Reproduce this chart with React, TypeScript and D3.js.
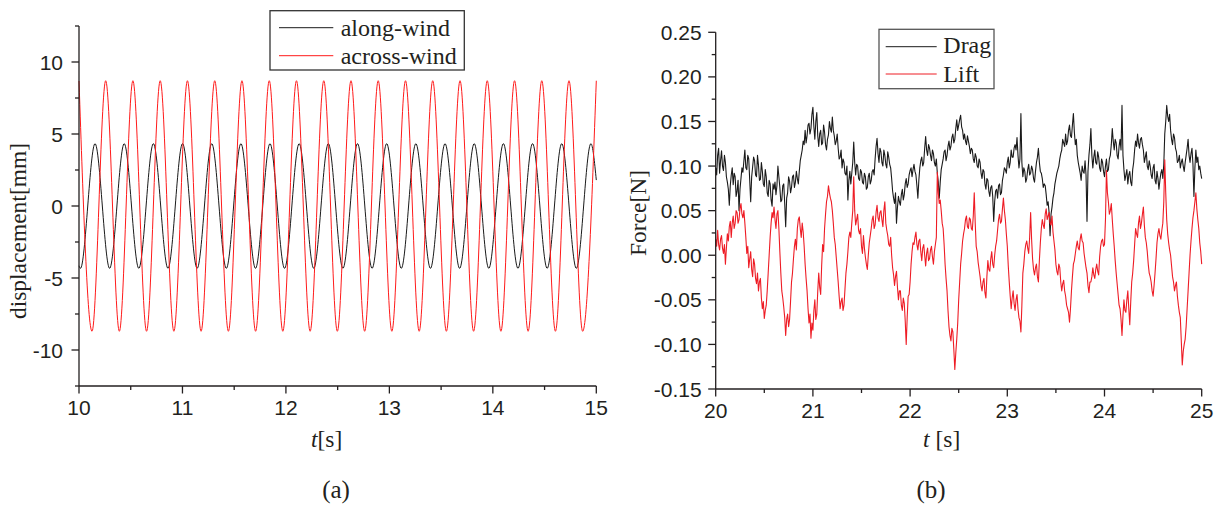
import React from "react";
import * as d3 from "d3";

// ---------- (a) displacement: extrema ----------
const alongWindT = [10.0, 10.014, 10.155, 10.296, 10.437, 10.578, 10.719, 10.86, 11.001, 11.142, 11.283, 11.424, 11.565, 11.706, 11.846, 11.987, 12.128, 12.269, 12.41, 12.551, 12.692, 12.833, 12.974, 13.115, 13.256, 13.397, 13.538, 13.679, 13.82, 13.961, 14.102, 14.243, 14.384, 14.525, 14.666, 14.807, 14.948, 15.0];
const alongWindV = [-4.15, -4.33, 4.33, -4.33, 4.33, -4.33, 4.33, -4.33, 4.33, -4.33, 4.33, -4.33, 4.33, -4.33, 4.33, -4.33, 4.33, -4.33, 4.33, -4.33, 4.33, -4.33, 4.33, -4.33, 4.33, -4.33, 4.33, -4.33, 4.33, -4.33, 4.33, -4.33, 4.33, -4.33, 4.33, -4.33, 4.33, 1.8];
const acrossWindT = [10.0, 10.126, 10.258, 10.39, 10.521, 10.653, 10.785, 10.917, 11.048, 11.18, 11.312, 11.444, 11.575, 11.707, 11.839, 11.97, 12.102, 12.234, 12.366, 12.497, 12.629, 12.761, 12.892, 13.024, 13.156, 13.288, 13.419, 13.551, 13.683, 13.814, 13.946, 14.078, 14.21, 14.341, 14.473, 14.605, 14.736, 14.868, 15.0];
const acrossWindV = [8.68, -8.7, 8.7, -8.7, 8.7, -8.7, 8.7, -8.7, 8.7, -8.7, 8.7, -8.7, 8.7, -8.7, 8.7, -8.7, 8.7, -8.7, 8.7, -8.7, 8.7, -8.7, 8.7, -8.7, 8.7, -8.7, 8.7, -8.7, 8.7, -8.7, 8.7, -8.7, 8.7, -8.7, 8.7, -8.7, 8.7, -8.7, 8.7];
const dispTicks = [-10, -5, 0, 5, 10];
const dispMinor = [-12.5, -7.5, -2.5, 2.5, 7.5, 12.5];
const tTicksA = [10, 11, 12, 13, 14, 15];
const tMinorA = [10.5, 11.5, 12.5, 13.5, 14.5];

// ---------- (b) forces: samples every 0.02 s from t = 20 s, plus in-between samples ----------
const forceT0 = 20;
const forceDt = 0.02;
const drag = [
  0.098, 0.112, 0.092, 0.117, 0.095, 0.104, 0.082, 0.056, 0.090, 0.079,
  0.088, 0.072, 0.050, 0.086, 0.093, 0.118, 0.096, 0.108, 0.060, 0.099,
  0.106, 0.088, 0.101, 0.085, 0.094, 0.077, 0.088, 0.066, 0.080, 0.055,
  0.074, 0.068, 0.100, 0.076, 0.062, 0.080, 0.032, 0.070, 0.083, 0.076,
  0.090, 0.082, 0.086, 0.094, 0.112, 0.128, 0.140, 0.134, 0.148, 0.142,
  0.166, 0.130, 0.160, 0.122, 0.140, 0.126, 0.138, 0.118, 0.135, 0.142,
  0.155, 0.134, 0.128, 0.120, 0.110, 0.098, 0.104, 0.090, 0.062, 0.094,
  0.092, 0.127, 0.090, 0.100, 0.084, 0.093, 0.080, 0.088, 0.076, 0.092,
  0.084, 0.096, 0.108, 0.131, 0.104, 0.116, 0.100, 0.112, 0.098, 0.110,
  0.098, 0.072, 0.058, 0.036, 0.066, 0.056, 0.074, 0.068, 0.086, 0.080,
  0.095, 0.088, 0.102, 0.090, 0.064, 0.098, 0.110, 0.104, 0.133, 0.112,
  0.120, 0.106, 0.114, 0.100, 0.092, 0.064, 0.096, 0.108, 0.118, 0.112,
  0.128, 0.122, 0.136, 0.130, 0.152, 0.146, 0.157, 0.140, 0.136, 0.124,
  0.128, 0.114, 0.118, 0.104, 0.110, 0.098, 0.104, 0.086, 0.094, 0.074,
  0.084, 0.066, 0.078, 0.038, 0.072, 0.064, 0.080, 0.070, 0.090, 0.096,
  0.104, 0.098, 0.118, 0.110, 0.124, 0.132, 0.098, 0.159, 0.088, 0.094,
  0.086, 0.102, 0.092, 0.096, 0.082, 0.104, 0.120, 0.094, 0.086, 0.080,
  0.068, 0.060, 0.022, 0.054, 0.070, 0.086, 0.096, 0.108, 0.118, 0.126,
  0.136, 0.128, 0.146, 0.132, 0.159, 0.124, 0.112, 0.098, 0.084, 0.094,
  0.106, 0.038, 0.112, 0.142, 0.098, 0.118, 0.102, 0.110, 0.094, 0.104,
  0.088, 0.108, 0.096, 0.112, 0.142, 0.118, 0.126, 0.108, 0.130, 0.168,
  0.096, 0.090, 0.080, 0.094, 0.078, 0.104, 0.128, 0.136, 0.120, 0.132,
  0.118, 0.110, 0.100, 0.106, 0.090, 0.098, 0.084, 0.094, 0.074, 0.092,
  0.086, 0.136, 0.168, 0.150, 0.140, 0.124, 0.132, 0.116, 0.106, 0.098,
  0.108, 0.094, 0.112, 0.130, 0.104, 0.120, 0.066, 0.118, 0.110, 0.100,
  0.086,
];
const dragMid = [
  0.090, 0.120, 0.106, 0.100, 0.112, 0.088, 0.074, 0.078, 0.098, 0.092,
  0.066, 0.084, 0.074, 0.098, 0.106, 0.098, 0.112, 0.084, 0.088, 0.110,
  0.090, 0.112, 0.084, 0.104, 0.080, 0.096, 0.070, 0.084, 0.062, 0.080,
  0.082, 0.078, 0.088, 0.060, 0.078, 0.058, 0.064, 0.088, 0.070, 0.088,
  0.076, 0.094, 0.080, 0.106, 0.118, 0.124, 0.126, 0.146, 0.136, 0.158,
  0.144, 0.150, 0.134, 0.136, 0.124, 0.146, 0.124, 0.130, 0.150, 0.138,
  0.140, 0.124, 0.136, 0.108, 0.118, 0.108, 0.092, 0.100, 0.084, 0.080,
  0.104, 0.104, 0.102, 0.086, 0.096, 0.082, 0.092, 0.074, 0.088, 0.080,
  0.094, 0.090, 0.122, 0.114, 0.120, 0.104, 0.118, 0.102, 0.116, 0.102,
  0.086, 0.064, 0.070, 0.054, 0.060, 0.068, 0.062, 0.080, 0.076, 0.090,
  0.098, 0.096, 0.094, 0.078, 0.084, 0.106, 0.100, 0.120, 0.118, 0.124,
  0.112, 0.118, 0.104, 0.108, 0.082, 0.082, 0.102, 0.116, 0.106, 0.122,
  0.118, 0.132, 0.126, 0.142, 0.140, 0.152, 0.144, 0.130, 0.128, 0.134,
  0.122, 0.120, 0.108, 0.114, 0.100, 0.108, 0.092, 0.096, 0.080, 0.086,
  0.072, 0.076, 0.066, 0.060, 0.074, 0.078, 0.068, 0.084, 0.098, 0.092,
  0.110, 0.104, 0.110, 0.120, 0.118, 0.112, 0.108, 0.104, 0.098, 0.082,
  0.096, 0.090, 0.100, 0.086, 0.094, 0.110, 0.104, 0.092, 0.076, 0.078,
  0.056, 0.048, 0.046, 0.064, 0.080, 0.092, 0.100, 0.114, 0.130, 0.122,
  0.124, 0.140, 0.134, 0.146, 0.138, 0.130, 0.104, 0.092, 0.100, 0.092,
  0.090, 0.094, 0.124, 0.112, 0.110, 0.104, 0.116, 0.098, 0.108, 0.094,
  0.100, 0.094, 0.108, 0.124, 0.128, 0.130, 0.112, 0.122, 0.118, 0.112,
  0.084, 0.096, 0.090, 0.082, 0.096, 0.118, 0.122, 0.126, 0.130, 0.124,
  0.104, 0.116, 0.096, 0.100, 0.086, 0.102, 0.080, 0.086, 0.084, 0.096,
  0.102, 0.150, 0.156, 0.158, 0.130, 0.136, 0.120, 0.104, 0.112, 0.104,
  0.100, 0.104, 0.120, 0.112, 0.114, 0.102, 0.098, 0.104, 0.096, 0.092,
];
const lift = [
  0.018, 0.028, 0.006, 0.022, 0.002, -0.010, 0.024, 0.032, 0.020, 0.044,
  0.036, 0.048, 0.040, 0.058, 0.042, 0.036, 0.002, -0.014, 0.004, -0.024,
  -0.010, -0.032, -0.040, -0.026, -0.060, -0.071, -0.056, -0.020, 0.020, 0.048,
  0.054, 0.030, 0.050, 0.004, -0.040, -0.058, -0.090, -0.066, -0.072, -0.030,
  -0.004, 0.018, 0.030, 0.043, 0.020, 0.026, -0.010, -0.040, -0.076, -0.093,
  -0.084, -0.050, -0.066, -0.020, -0.044, 0.012, 0.030, 0.060, 0.078, 0.064,
  0.050, 0.020, -0.002, -0.030, -0.060, -0.048, -0.056, -0.020, 0.004, 0.026,
  0.036, 0.088, 0.034, 0.046, 0.024, 0.010, 0.022, -0.002, -0.016, 0.014,
  0.030, 0.044, 0.034, 0.056, 0.038, 0.050, 0.032, 0.060, 0.028, 0.012,
  0.020, -0.014, -0.034, -0.018, -0.050, -0.040, -0.062, -0.054, -0.100, -0.046,
  -0.030, 0.004, 0.012, 0.026, 0.006, 0.018, -0.006, 0.012, -0.012, 0.008,
  -0.004, 0.010, -0.010, 0.012, 0.093, 0.058, 0.050, 0.030, -0.010, -0.040,
  -0.080, -0.096, -0.086, -0.128, -0.094, -0.050, -0.010, 0.016, 0.030, 0.044,
  0.030, 0.040, 0.028, 0.070, 0.010, -0.008, -0.024, -0.040, -0.026, -0.048,
  -0.006, -0.018, 0.004, -0.014, 0.010, 0.028, 0.046, 0.038, 0.064, 0.040,
  0.010, -0.030, -0.060, -0.040, -0.062, -0.044, -0.070, -0.086, -0.020, 0.004,
  0.016, 0.002, 0.048, -0.004, -0.022, -0.010, -0.030, 0.014, 0.040, 0.030,
  0.052, 0.044, 0.036, 0.044, 0.016, -0.010, -0.022, -0.014, -0.040, -0.028,
  -0.046, -0.060, -0.075, -0.040, -0.010, 0.002, 0.016, 0.006, 0.024, 0.014,
  -0.006, -0.020, -0.042, -0.030, -0.014, -0.026, -0.010, -0.022, 0.010, 0.018,
  0.012, 0.095, 0.060, 0.050, 0.040, 0.010, -0.020, -0.044, -0.060, -0.090,
  -0.050, -0.064, -0.040, -0.078, -0.030, -0.006, 0.030, 0.020, 0.044, 0.036,
  0.054, 0.020, 0.004, -0.020, -0.030, -0.046, -0.020, 0.014, 0.030, 0.018,
  0.036, 0.107, 0.040, 0.014, 0.000, -0.024, -0.040, -0.030, -0.056, -0.070,
  -0.123, -0.100, -0.080, -0.040, 0.000, 0.030, 0.050, 0.070, 0.040, 0.014,
  -0.010,
];
const liftMid = [
  0.010, 0.012, 0.018, 0.008, 0.012, 0.008, 0.016, 0.038, 0.036, 0.030,
  0.050, 0.036, 0.052, 0.046, 0.050, 0.020, 0.010, -0.004, -0.016, -0.004,
  -0.026, -0.020, -0.030, -0.048, -0.052, -0.062, -0.040, 0.000, 0.036, 0.042,
  0.040, 0.046, 0.030, -0.020, -0.048, -0.070, -0.072, -0.080, -0.052, -0.020,
  0.010, 0.006, 0.040, 0.030, 0.036, 0.010, -0.026, -0.060, -0.066, -0.076,
  -0.062, -0.072, -0.040, -0.036, -0.012, 0.004, 0.046, 0.066, 0.070, 0.060,
  0.036, 0.012, -0.016, -0.046, -0.052, -0.062, -0.038, -0.010, 0.020, 0.020,
  0.050, 0.050, 0.040, 0.028, 0.030, 0.002, 0.008, -0.010, 0.000, 0.022,
  0.040, 0.030, 0.048, 0.042, 0.048, 0.040, 0.050, 0.036, 0.022, 0.010,
  0.000, -0.022, -0.024, -0.036, -0.040, -0.056, -0.048, -0.074, -0.070, -0.044,
  -0.010, 0.014, 0.020, 0.012, 0.016, 0.004, 0.008, 0.000, 0.002, -0.006,
  0.006, -0.002, 0.004, 0.020, 0.070, 0.062, 0.036, 0.012, -0.026, -0.062,
  -0.090, -0.082, -0.106, -0.110, -0.076, -0.030, 0.002, 0.024, 0.040, 0.032,
  0.042, 0.030, 0.044, 0.036, 0.004, -0.016, -0.034, -0.030, -0.042, -0.024,
  -0.016, -0.004, -0.010, 0.000, 0.016, 0.040, 0.036, 0.052, 0.050, 0.024,
  -0.012, -0.046, -0.048, -0.054, -0.050, -0.060, -0.074, -0.056, -0.010, 0.012,
  0.008, 0.020, 0.018, -0.016, -0.014, -0.024, -0.006, 0.030, 0.034, 0.046,
  0.040, 0.048, 0.034, 0.026, 0.006, -0.018, -0.010, -0.030, -0.032, -0.040,
  -0.056, -0.064, -0.060, -0.024, -0.006, 0.010, 0.008, 0.018, 0.016, 0.002,
  -0.014, -0.034, -0.030, -0.024, -0.022, -0.016, -0.018, -0.002, 0.016, 0.010,
  0.040, 0.070, 0.046, 0.058, 0.024, -0.006, -0.032, -0.056, -0.072, -0.068,
  -0.062, -0.050, -0.060, -0.052, -0.020, 0.012, 0.024, 0.036, 0.030, 0.046,
  0.034, 0.014, -0.010, -0.024, -0.040, -0.034, -0.004, 0.024, 0.022, 0.028,
  0.060, 0.070, 0.024, 0.006, -0.012, -0.030, -0.034, -0.046, -0.064, -0.096,
  -0.108, -0.094, -0.060, -0.020, 0.016, 0.042, 0.060, 0.052, 0.030, 0.004,
];
const forceTicks = [-0.15, -0.1, -0.05, 0, 0.05, 0.1, 0.15, 0.2, 0.25];
const forceMinor = [-0.125, -0.075, -0.025, 0.025, 0.075, 0.125, 0.175, 0.225];
const tTicksB = [20, 21, 22, 23, 24, 25];
const tMinorB = [20.5, 21.5, 22.5, 23.5, 24.5];

const SANS = "'Liberation Sans', Arial, sans-serif";
const SERIF = "'Liberation Serif', 'Times New Roman', serif";
const AXIS = "#231f20";
const BLACK = "#1a1a1a";
const RED_A = "#ff1a1a";
const RED_B = "#ee1c25";

function interleave(main: number[], mid: number[]): [number, number][] {
  const out: [number, number][] = [];
  main.forEach((v, i) => {
    const t = forceT0 + i * forceDt;
    out.push([t, v]);
    if (i < mid.length) out.push([t + forceDt / 2, mid[i]]);
  });
  return out;
}

export default function App() {
  // panel (a)
  const xa = d3.scaleLinear().domain([10, 15]).range([79, 596.3]);
  const ya = d3.scaleLinear().domain([-12.5, 12.5]).range([386, 26]);
  const lineA = d3
    .line<[number, number]>()
    .x((d) => xa(d[0]))
    .y((d) => ya(d[1]))
    .curve(d3.curveMonotoneX);
  const alongPts = alongWindT.map((t, i) => [t, alongWindV[i]] as [number, number]);
  const acrossPts = acrossWindT.map((t, i) => [t, acrossWindV[i]] as [number, number]);

  // panel (b)
  const xb = d3.scaleLinear().domain([20, 25]).range([715.7, 1201.7]);
  const yb = d3.scaleLinear().domain([-0.15, 0.25]).range([389, 32.3]);
  const lineB = d3
    .line<[number, number]>()
    .x((d) => xb(d[0]))
    .y((d) => yb(d[1]));
  const dragPts = interleave(drag, dragMid);
  const liftPts = interleave(lift, liftMid);

  const majorLen = 7.5;
  const minorLen = 4;

  return (
    <svg
      width={1218}
      height={505}
      style={{ position: "absolute", left: 0, top: 0, background: "#fff" }}
    >
      <rect x={0} y={0} width={1218} height={505} fill="#fff" />

      {/* ===== panel (a) ===== */}
      <path d={lineA(alongPts) || ""} fill="none" stroke={BLACK} strokeWidth={1} />
      <path d={lineA(acrossPts) || ""} fill="none" stroke={RED_A} strokeWidth={1} />

      <g stroke={AXIS} strokeWidth={1.3}>
        <line x1={xa(10)} x2={xa(10)} y1={ya(12.5)} y2={ya(-12.5)} />
        <line x1={xa(10)} x2={xa(15)} y1={ya(-12.5)} y2={ya(-12.5)} />
        {dispTicks.map((v) => (
          <line key={"ya" + v} x1={xa(10) - majorLen} x2={xa(10)} y1={ya(v)} y2={ya(v)} />
        ))}
        {dispMinor.map((v) => (
          <line key={"yam" + v} x1={xa(10) - minorLen} x2={xa(10)} y1={ya(v)} y2={ya(v)} />
        ))}
        {tTicksA.map((v) => (
          <line key={"xa" + v} x1={xa(v)} x2={xa(v)} y1={ya(-12.5)} y2={ya(-12.5) + majorLen} />
        ))}
        {tMinorA.map((v) => (
          <line key={"xam" + v} x1={xa(v)} x2={xa(v)} y1={ya(-12.5)} y2={ya(-12.5) + minorLen} />
        ))}
      </g>
      <g fontFamily={SANS} fontSize={21} fill="#231f20">
        {dispTicks.map((v) => (
          <text key={"yal" + v} x={63} y={ya(v) + 7.5} textAnchor="end">
            {v < 0 ? "-" + Math.abs(v) : String(v)}
          </text>
        ))}
        {tTicksA.map((v) => (
          <text key={"xal" + v} x={xa(v)} y={ya(-12.5) + 29} textAnchor="middle">
            {v}
          </text>
        ))}
      </g>
      <text
        fontFamily={SERIF}
        fontSize={23.5}
        fill="#231f20"
        transform={`translate(26,231) rotate(-90)`}
        textAnchor="middle"
      >
        displacement[mm]
      </text>
      <text fontFamily={SERIF} fontSize={23.5} fill="#231f20" x={311} y={447}>
        <tspan fontStyle="italic">t</tspan>[s]
      </text>
      <text fontFamily={SERIF} fontSize={25} fill="#231f20" x={336} y={498} textAnchor="middle">
        (a)
      </text>

      {/* legend (a) */}
      <rect x={270} y={10.7} width={194.3} height={59.3} fill="#fff" stroke="#333" strokeWidth={1.3} />
      <line x1={279} x2={333.3} y1={27.7} y2={27.7} stroke={BLACK} strokeWidth={1} />
      <line x1={279} x2={333.3} y1={55.7} y2={55.7} stroke={RED_A} strokeWidth={1} />
      <g fontFamily={SERIF} fontSize={24} fill="#231f20">
        <text x={340.7} y={36}>along-wind</text>
        <text x={340.7} y={63.5}>across-wind</text>
      </g>

      {/* ===== panel (b) ===== */}
      <path d={lineB(dragPts) || ""} fill="none" stroke={BLACK} strokeWidth={1.1} strokeLinejoin="round" />
      <path d={lineB(liftPts) || ""} fill="none" stroke={RED_B} strokeWidth={1.1} strokeLinejoin="round" />

      <g stroke={AXIS} strokeWidth={1.3}>
        <line x1={xb(20)} x2={xb(20)} y1={yb(0.25)} y2={yb(-0.15)} />
        <line x1={xb(20)} x2={xb(25)} y1={yb(-0.15)} y2={yb(-0.15)} />
        {forceTicks.map((v) => (
          <line key={"yb" + v} x1={xb(20) - majorLen} x2={xb(20)} y1={yb(v)} y2={yb(v)} />
        ))}
        {forceMinor.map((v) => (
          <line key={"ybm" + v} x1={xb(20) - minorLen} x2={xb(20)} y1={yb(v)} y2={yb(v)} />
        ))}
        {tTicksB.map((v) => (
          <line key={"xb" + v} x1={xb(v)} x2={xb(v)} y1={yb(-0.15)} y2={yb(-0.15) + majorLen} />
        ))}
        {tMinorB.map((v) => (
          <line key={"xbm" + v} x1={xb(v)} x2={xb(v)} y1={yb(-0.15)} y2={yb(-0.15) + minorLen} />
        ))}
      </g>
      <g fontFamily={SANS} fontSize={21} fill="#231f20">
        {forceTicks.map((v) => (
          <text key={"ybl" + v} x={701.7} y={yb(v) + 7.5} textAnchor="end">
            {(v < 0 ? "-" : "") + Math.abs(v).toFixed(2)}
          </text>
        ))}
        {tTicksB.map((v) => (
          <text key={"xbl" + v} x={xb(v)} y={yb(-0.15) + 29} textAnchor="middle">
            {v}
          </text>
        ))}
      </g>
      <text
        fontFamily={SERIF}
        fontSize={23.5}
        fill="#231f20"
        transform={`translate(646,213) rotate(-90)`}
        textAnchor="middle"
      >
        Force[N]
      </text>
      <text fontFamily={SERIF} fontSize={23.5} fill="#231f20" x={923} y={447}>
        <tspan fontStyle="italic">t</tspan> [s]
      </text>
      <text fontFamily={SERIF} fontSize={25} fill="#231f20" x={931} y={498} textAnchor="middle">
        (b)
      </text>

      {/* legend (b) */}
      <rect x={879} y={29.3} width={115} height={59.4} fill="#fff" stroke="#555" strokeWidth={1.3} />
      <line x1={885.7} x2={936.7} y1={46.7} y2={46.7} stroke={BLACK} strokeWidth={1} />
      <line x1={885.7} x2={936.7} y1={74} y2={74} stroke={RED_B} strokeWidth={1} />
      <g fontFamily={SERIF} fontSize={24} fill="#231f20">
        <text x={943.3} y={52.6}>Drag</text>
        <text x={943.3} y={82.3}>Lift</text>
      </g>
    </svg>
  );
}
